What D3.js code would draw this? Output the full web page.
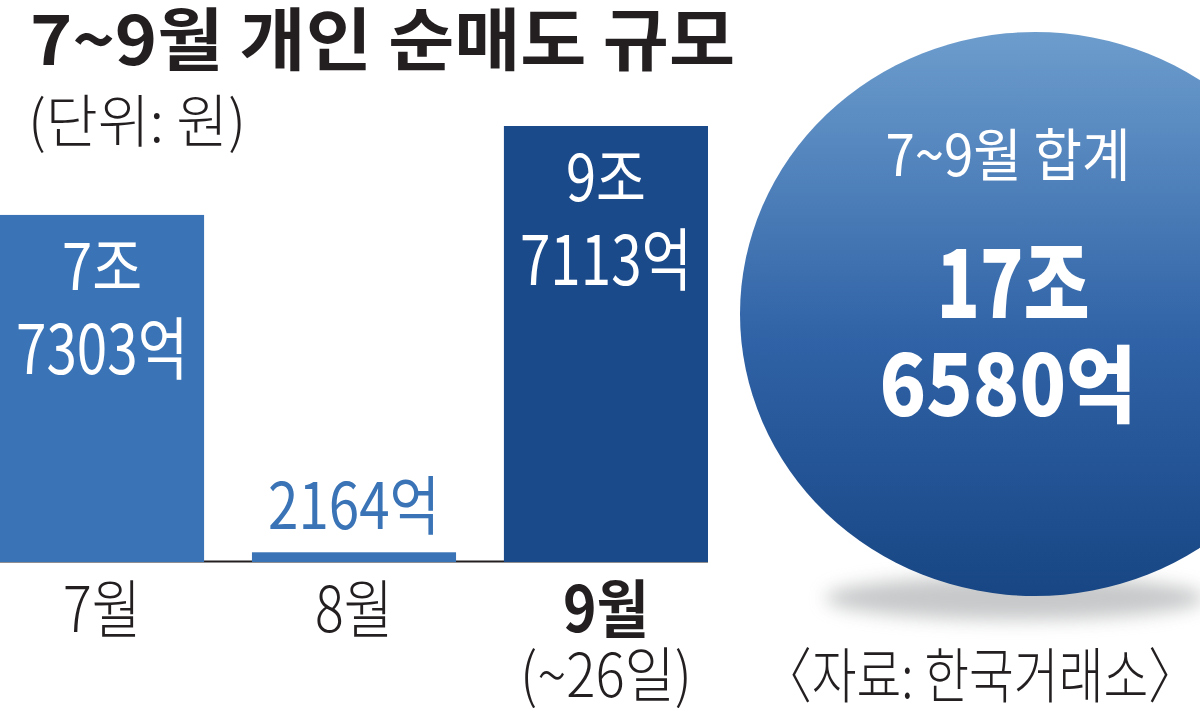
<!DOCTYPE html>
<html><head><meta charset="utf-8">
<script src="https://cdn.jsdelivr.net/npm/d3@7"></script>
<style>
html,body{margin:0;padding:0;background:#fff;}
svg{display:block;}
text{font-family:"Noto Sans CJK KR","Noto Sans",sans-serif;}
</style></head>
<body>
<svg id="c" width="1200" height="708"></svg>
<script>
// ---- data ----
const months = ["7월", "8월", "9월"];
const values = [77303, 2164, 97113];            // 억원
const labelTop = ["7조", "", "9조"];
const labelBottom = ["7303억", "2164억", "7113억"];
const subLabels = ["", "", "(~26일)"];
const totalLines = ["7~9월 합계", "17조", "6580억"];
const title = "7~9월 개인 순매도 규모";
const unit = "(단위: 원)";
const source = "〈자료: 한국거래소〉";

const svg = d3.select("#c");
const ink = "#231f20";
const lightBlue = "#3a74b6";
const darkBlue = "#1b4a8b";
const barColors = [lightBlue, lightBlue, darkBlue];

// defs
const defs = svg.append("defs");
const grad = defs.append("linearGradient").attr("id","g").attr("x1",0).attr("y1",0).attr("x2",0).attr("y2",1);
grad.append("stop").attr("offset","0%").attr("stop-color","#6d9dcd");
grad.append("stop").attr("offset","55%").attr("stop-color","#2f62a6");
grad.append("stop").attr("offset","100%").attr("stop-color","#184684");
const blur = defs.append("filter").attr("id","blur").attr("x","-50%").attr("y","-200%").attr("width","200%").attr("height","500%");
blur.append("feGaussianBlur").attr("stdDeviation",9);

// title
svg.append("text").attr("x",30).attr("y",65).attr("font-size",68).attr("font-weight",700)
  .attr("fill",ink).attr("textLength",705).attr("lengthAdjust","spacingAndGlyphs").text(title);
svg.append("text").attr("x",28).attr("y",142).attr("font-size",57).attr("font-weight",300)
  .attr("fill",ink).attr("textLength",218).attr("lengthAdjust","spacingAndGlyphs").text(unit);

// scales
const x = d3.scaleBand().domain(months).range([0,708]).paddingInner(0.19).paddingOuter(0);
const y = d3.scaleLinear().domain([0, 97113]).range([562, 126]);

// baseline
svg.append("line").attr("x1",0).attr("x2",708).attr("y1",y(0)-0.5).attr("y2",y(0)-0.5)
  .attr("stroke","#231f20").attr("stroke-width",2);

const data = months.map((m,i)=>({m, v:values[i], t:labelTop[i], b:labelBottom[i], s:subLabels[i], c:barColors[i]}));

svg.selectAll("rect.bar").data(data).join("rect").attr("class","bar")
  .attr("x",d=>x(d.m)).attr("width",x.bandwidth())
  .attr("y",d=>y(d.v)).attr("height",d=>y(0)-y(d.v)).attr("fill",d=>d.c);

// labels inside/above bars
data.forEach((d,i)=>{
  const cx = x(d.m)+x.bandwidth()/2;
  const top = y(d.v);
  const inside = (y(0)-top) > 150;
  if(inside){
    svg.append("text").attr("x",cx).attr("y",top+75).attr("text-anchor","middle")
      .attr("font-size",64).attr("font-weight",400).attr("fill","#fff")
      .attr("textLength",80).attr("lengthAdjust","spacingAndGlyphs").text(d.t);
    svg.append("text").attr("x",cx).attr("y",top+159).attr("text-anchor","middle")
      .attr("font-size",68).attr("font-weight",400).attr("fill","#fff")
      .attr("textLength",172).attr("lengthAdjust","spacingAndGlyphs").text(d.b);
  } else {
    svg.append("text").attr("x",cx).attr("y",top-23).attr("text-anchor","middle")
      .attr("font-size",64).attr("font-weight",400).attr("fill",lightBlue)
      .attr("textLength",172).attr("lengthAdjust","spacingAndGlyphs").text(d.b);
  }
  // month labels
  svg.append("text").attr("x",cx).attr("y",632).attr("text-anchor","middle")
    .attr("font-size",63).attr("font-weight",i===2?700:300).attr("fill",ink)
    .attr("textLength",i===2?86:78).attr("lengthAdjust","spacingAndGlyphs").text(d.m);
  if(d.s){
    svg.append("text").attr("x",cx).attr("y",697).attr("text-anchor","middle")
      .attr("font-size",60).attr("font-weight",300).attr("fill",ink)
      .attr("textLength",172).attr("lengthAdjust","spacingAndGlyphs").text(d.s);
  }
});

// total circle with shadow
svg.append("ellipse").attr("cx",1015).attr("cy",598).attr("rx",190).attr("ry",22)
  .attr("fill","#9a9c9e").attr("opacity",0.55).attr("filter","url(#blur)");
svg.append("ellipse").attr("cx",1035).attr("cy",314).attr("rx",295).attr("ry",282).attr("fill","url(#g)");

svg.append("text").attr("x",1008).attr("y",176).attr("text-anchor","middle")
  .attr("font-size",57).attr("font-weight",400).attr("fill","#fff")
  .attr("textLength",245).attr("lengthAdjust","spacingAndGlyphs").text(totalLines[0]);
svg.append("text").attr("x",1013).attr("y",318).attr("text-anchor","middle")
  .attr("font-size",92).attr("font-weight",900).attr("fill","#fff")
  .attr("textLength",153).attr("lengthAdjust","spacingAndGlyphs").text(totalLines[1]);
svg.append("text").attr("x",1008).attr("y",416).attr("text-anchor","middle")
  .attr("font-size",84).attr("font-weight",900).attr("fill","#fff")
  .attr("textLength",257).attr("lengthAdjust","spacingAndGlyphs").text(totalLines[2]);

// source
svg.append("text").attr("x",763).attr("y",698).attr("font-size",60).attr("font-weight",300)
  .attr("fill",ink).attr("textLength",434).attr("lengthAdjust","spacingAndGlyphs").text(source);
</script>
</body></html>
